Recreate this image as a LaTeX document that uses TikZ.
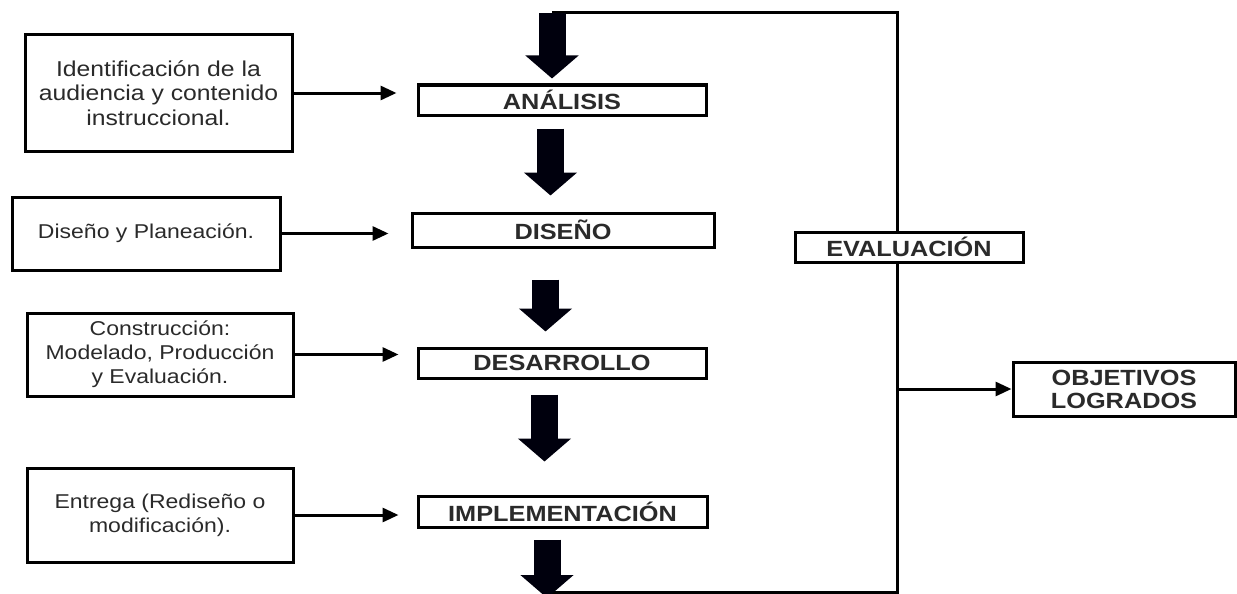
\documentclass[tikz,border=0pt]{standalone}
\usepackage{fontspec}
\setmainfont{Liberation Sans}[FakeStretch=1.15]
\usetikzlibrary{arrows.meta}
\definecolor{txt}{HTML}{2A2A2A}
\tikzset{
  leftbox/.style={draw, line width=3pt, align=center, text=txt, inner sep=2pt,
    font=\fontsize{20}{24}\selectfont},
  midbox/.style={draw, line width=3pt, align=center, text=txt, inner sep=0pt,
    font=\fontsize{22}{23}\selectfont\bfseries},
  thin/.style={line width=3pt, -{Triangle[length=16pt,width=14pt]}},
  loopline/.style={line width=3pt},
  bigarrow/.style={line width=27pt, -{Triangle[length=23pt,width=52pt]}, black!95!blue}
}
\begin{document}
\begin{tikzpicture}[x=1pt,y=-1pt]
\useasboundingbox (0,0) rectangle (1237,594);
% left boxes
\node[leftbox, minimum width=267pt, minimum height=116pt, font=\fontsize{21.5}{24.5}\selectfont] (l1) at (158.5,93)
  {Identificación de la\\audiencia y contenido\\instruccional.};
\node[leftbox, minimum width=268pt, minimum height=73pt] (l2) at (146,233.5)
  {Diseño y Planeación.};
\node[leftbox, minimum width=266pt, minimum height=83pt] (l3) at (160,354.5)
  {Construcción:\\Modelado, Producción\\y Evaluación.};
\node[leftbox, minimum width=266pt, minimum height=94pt] (l4) at (160,515)
  {Entrega (Rediseño o\\modificación).};
% middle boxes
\node[midbox, minimum width=288pt, minimum height=30pt] (ana) at (562,100) {ANÁLISIS};
\node[midbox, minimum width=302pt, minimum height=34pt] (dis) at (563,230) {DISEÑO};
\node[midbox, minimum width=288pt, minimum height=30pt] (des) at (562,363) {DESARROLLO};
\node[midbox, minimum width=289pt, minimum height=31pt] (imp) at (562.5,511.5) {IMPLEMENTACIÓN};
% right boxes
\node[midbox, minimum width=228pt, minimum height=30pt] (ev) at (909,247) {EVALUACIÓN};
\node[midbox, minimum width=222pt, minimum height=54pt] (obj) at (1124,389) {OBJETIVOS\\LOGRADOS};
% coordinates
\coordinate (lt) at (552,13);
\coordinate (rt) at (897,13);
\coordinate (rb) at (897,592);
\coordinate (bot) at (547,598);
% loop lines
\draw[loopline] (lt) -- (rt) -- (rt |- ev.north);
\draw[loopline] (rb |- ev.south) -- (rb) -- (bot |- rb);
\draw[thin] (rb |- obj.west) -- (obj.west);
% thin arrows
\draw[thin, shorten >=20pt] (l1.east) -- (l1.east -| ana.west);
\draw[thin, shorten >=22pt] (l2.east) -- (l2.east -| dis.west);
\draw[thin, shorten >=18pt] (l3.east) -- (l3.east -| des.west);
\draw[thin, shorten >=18pt] (l4.east) -- (l4.east -| imp.west);
% thick arrows
\draw[bigarrow, shorten >=5pt] (lt) -- (lt |- ana.north);
\draw[bigarrow, shorten <=12pt, shorten >=16pt] ([xshift=-11.5pt]ana.south) -- ([xshift=-12.5pt]dis.north);
\draw[bigarrow, shorten <=31pt, shorten >=15pt] ([xshift=-17.5pt]dis.south) -- ([xshift=-16.5pt]des.north);
\draw[bigarrow, shorten <=15pt, shorten >=33pt] ([xshift=-17.5pt]des.south) -- ([xshift=-18pt]imp.north);
\draw[bigarrow, shorten <=11pt] (imp.south -| bot) -- (bot);
\end{tikzpicture}
\end{document}
